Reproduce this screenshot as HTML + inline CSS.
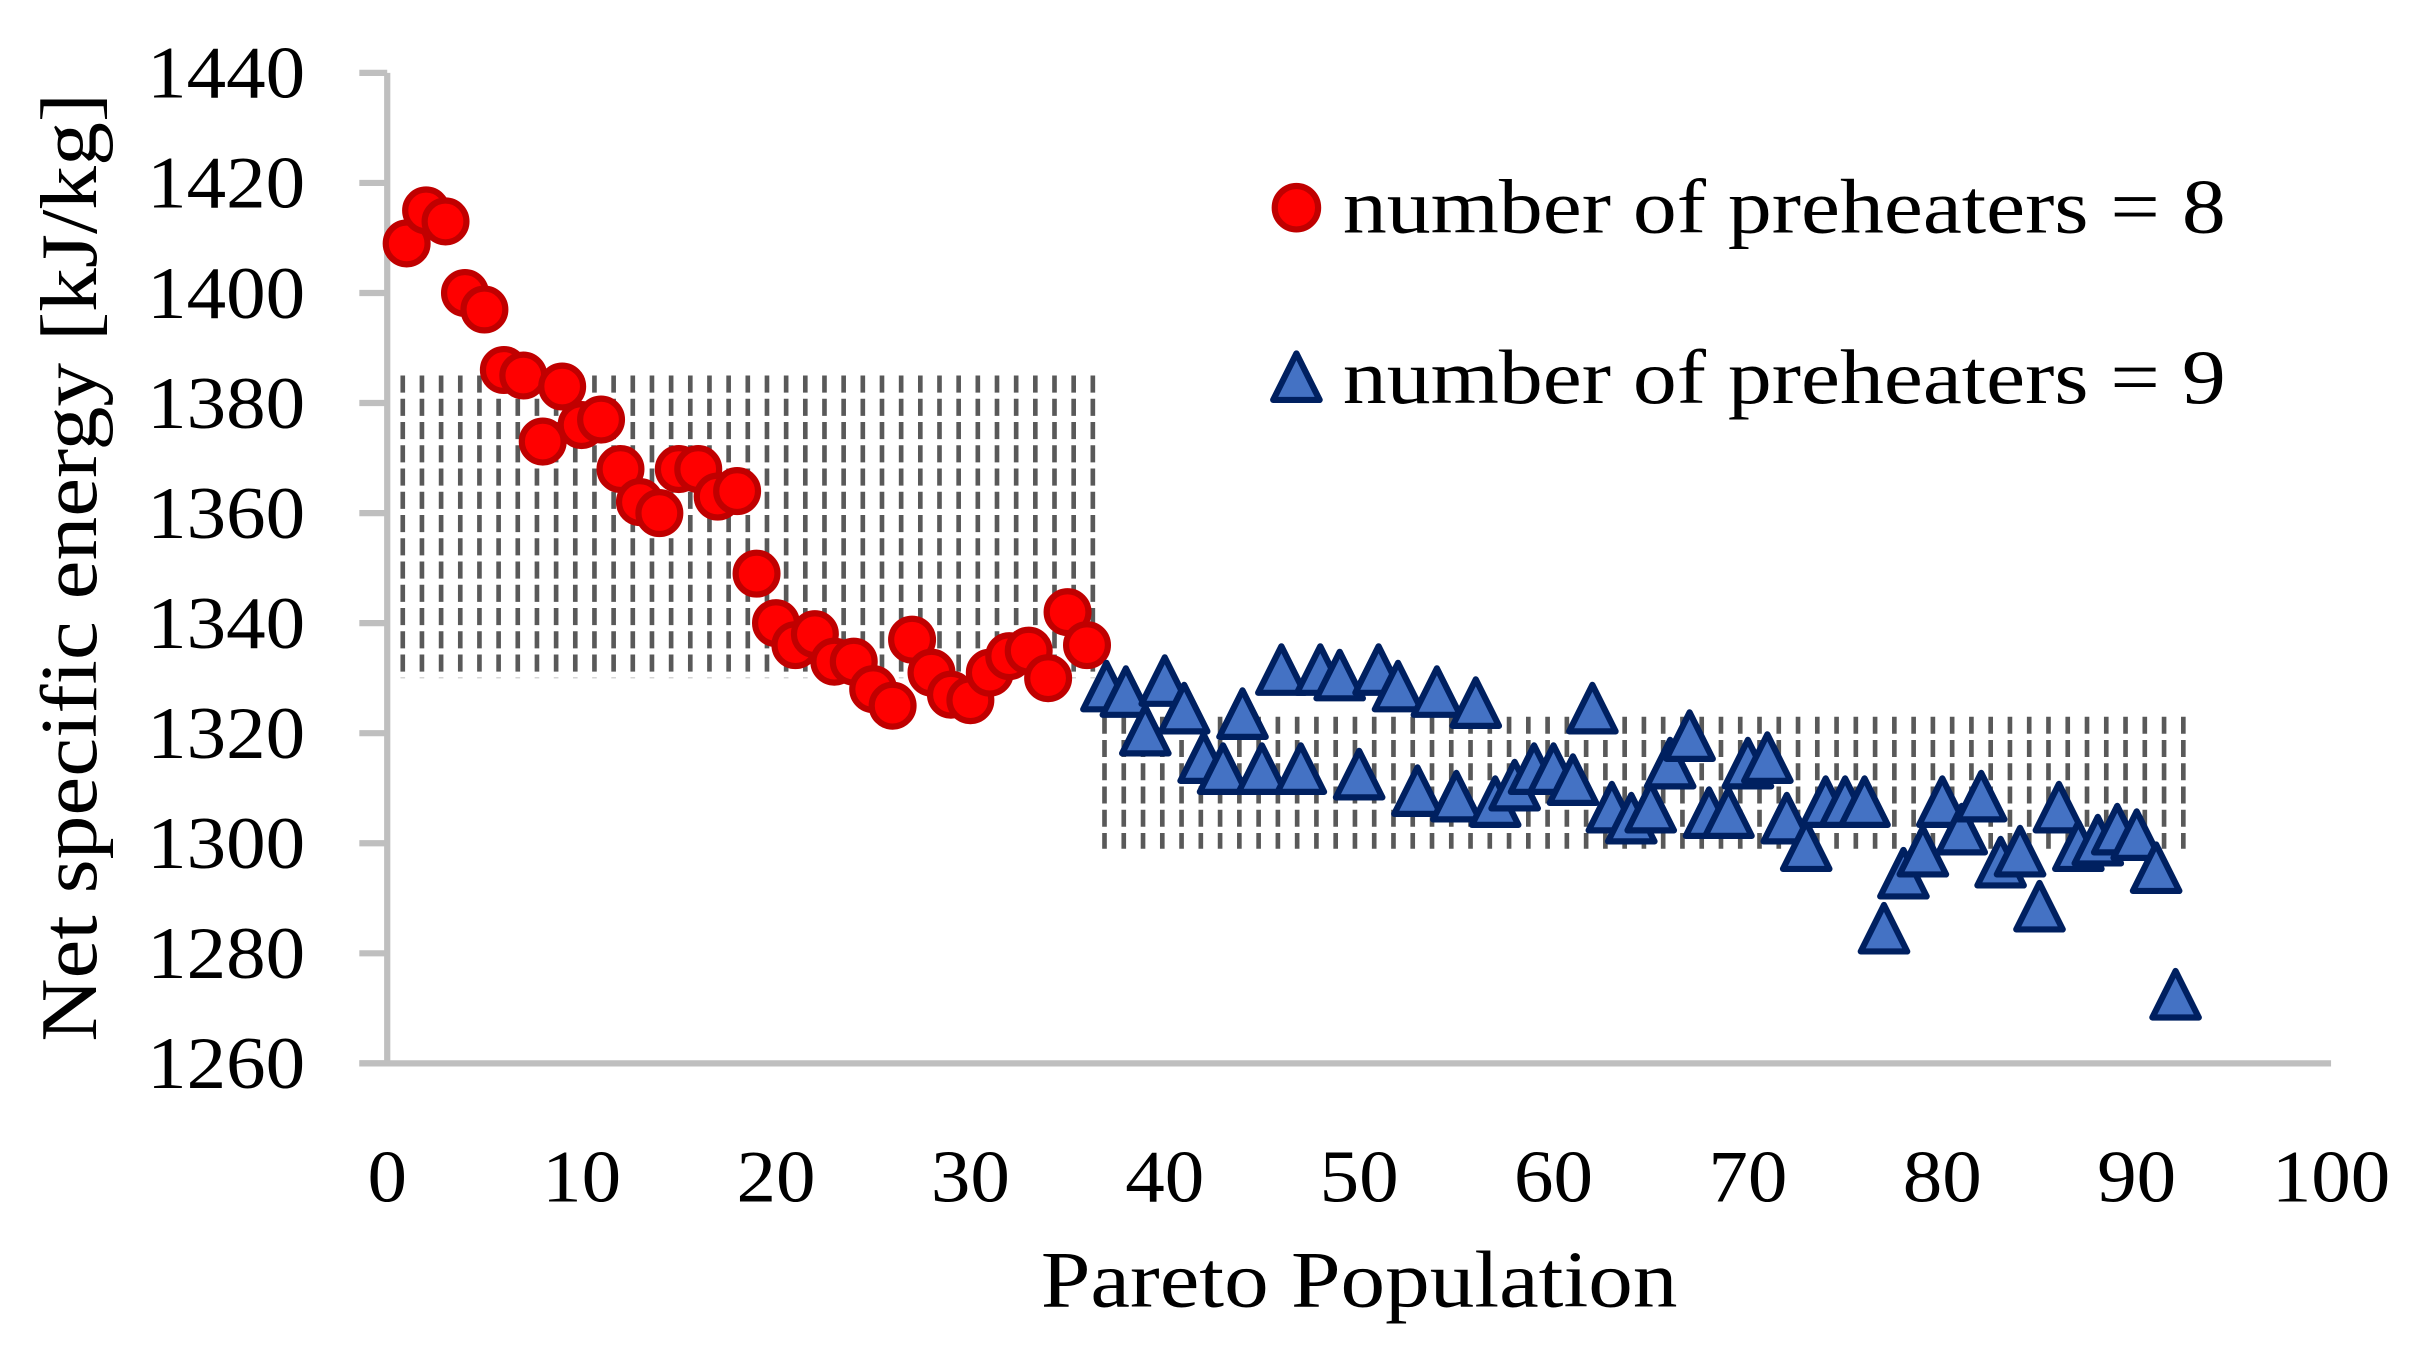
<!DOCTYPE html>
<html><head><meta charset="utf-8"><style>
html,body{margin:0;padding:0;background:#fff;}
svg{display:block;}
text{font-family:"Liberation Serif","DejaVu Serif",serif;fill:#000;}
</style></head><body>
<svg id="chart" width="2424" height="1361" viewBox="0 0 1565 878" preserveAspectRatio="none" xmlns="http://www.w3.org/2000/svg">
<g id="hatch"></g>
<g id="axes"></g>
<g id="marks"></g>
<g>
  <circle cx="837" cy="134" r="14" fill="#ff0000" stroke="#c00000" stroke-width="4"/>
  <text x="867" y="150" font-size="50" textLength="570" lengthAdjust="spacingAndGlyphs">number of preheaters = 8</text>
  <polygon points="837,228 852,258 822,258" fill="#4472c4" stroke="#002060" stroke-width="4" stroke-linejoin="round"/>
  <text x="867" y="260" font-size="50" textLength="570" lengthAdjust="spacingAndGlyphs">number of preheaters = 9</text>
</g>
<text x="672" y="843" font-size="52" textLength="411" lengthAdjust="spacingAndGlyphs">Pareto Population</text>
<text transform="translate(62,672) rotate(-90)" font-size="52" textLength="612" lengthAdjust="spacingAndGlyphs">Net specific energy [kJ/kg]</text>
</svg>
<script>
const xTicks=[0,10,20,30,40,50,60,70,80,90,100];
const yTicks=[1260,1280,1300,1320,1340,1360,1380,1400,1420,1440];
const redValues=[1409,1415,1413,1400,1397,1386,1385,1373,1383,1376,1377,1368,1362,1360,1368,1368,1363,1364,1349,1340,1336,1338,1333,1333,1328,1325,1337,1331,1327,1326,1331,1334,1335,1330,1342,1336];
const redStart=1;
const blueValues=[1328,1327,1320,1329,1324,1315,1313,1323,1313,1331,1313,1331,1330,1312,1331,1328,1309,1327,1308,1325,1307,1310,1313,1313,1311,1324,1306,1304,1306,1314,1319,1305,1305,1314,1315,1304,1299,1307,1307,1307,1284,1294,1298,1307,1302,1308,1296,1298,1288,1306,1299,1300,1302,1301,1295,1272];
const blueStart=37;
const bandX1=[0.8,36.9];
const bandX2=[36.3,92.4];
const bandTop=[1385,1323];
const bandBottom=[1330,1299];

const NS='http://www.w3.org/2000/svg';
const X0=250,X1=1505,Y0=686,Y1=47;
function xs(v){return X0+(v-0)/(100-0)*(X1-X0);}
function ys(v){return Y0-(v-1260)/(1440-1260)*(Y0-Y1);}
function mk(tag,attrs,parent){const e=document.createElementNS(NS,tag);for(const k in attrs)e.setAttribute(k,attrs[k]);parent.appendChild(e);return e;}

const hatch=document.getElementById('hatch');
for(let b=0;b<bandX1.length;b++){
  const n=Math.round(bandX2[b]-bandX1[b]);
  for(let i=0;i<=n;i++){
    const x=xs(bandX1[b]+(bandX2[b]-bandX1[b])*i/n);
    const l=mk('line',{x1:x,x2:x,y1:ys(bandTop[b]),y2:ys(bandBottom[b]),stroke:'#595959','stroke-width':3,'stroke-dasharray':'11 4'},hatch);
    
    
  }
}

const axes=document.getElementById('axes');
const ya=mk('line',{x1:X0,x2:X0,y1:Y1,y2:Y0,stroke:'#bfbfbf','stroke-width':4},axes);


const xa=mk('line',{x1:X0-18,x2:X1,y1:Y0,y2:Y0,stroke:'#bfbfbf','stroke-width':4},axes);


yTicks.forEach(v=>{
  const t=mk('line',{x1:X0-18,x2:X0,y1:ys(v),y2:ys(v),stroke:'#bfbfbf','stroke-width':4},axes);
  
  
  const lb=mk('text',{x:X0-155,y:ys(v)+16,'font-size':48,textLength:102,lengthAdjust:'spacingAndGlyphs'},axes);
  lb.textContent=v;
  
  
});
xTicks.forEach(v=>{
  const w=String(v).length*25.5;
  const lb=mk('text',{x:xs(v)-w/2,y:Y0+89,'font-size':48,textLength:w,lengthAdjust:'spacingAndGlyphs'},axes);
  lb.textContent=v;
  
  
});

const marks=document.getElementById('marks');
redValues.forEach((v,i)=>{
  const c=mk('circle',{cx:xs(redStart+i),cy:ys(v),r:13.5,fill:'#ff0000',stroke:'#c00000','stroke-width':4},marks);
  
  
});
blueValues.forEach((v,i)=>{
  const x=xs(blueStart+i),y=ys(v);
  const p=mk('polygon',{points:`${x},${y-17} ${x+15},${y+13} ${x-15},${y+13}`,fill:'#4472c4',stroke:'#002060','stroke-width':4,'stroke-linejoin':'round'},marks);
  
  
});
</script>
</body></html>
